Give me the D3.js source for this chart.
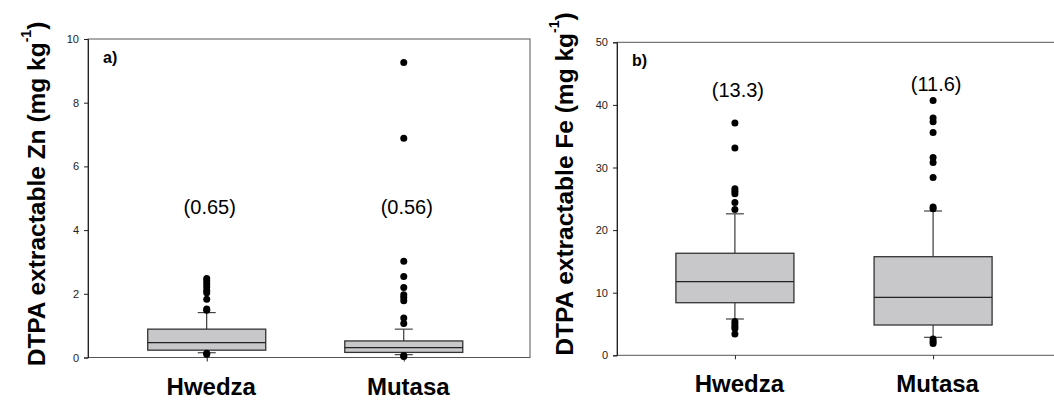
<!DOCTYPE html>
<meta charset="utf-8">
<style>
  body { margin: 0; background: #fff; }
  svg { display: block; font-family: "Liberation Sans", Arial, sans-serif; }
  .tick text { fill: #222; }
  .frame { fill: none; stroke: #555; stroke-width: 1; }
  .box { fill: #c8c8ca; stroke: #333; stroke-width: 1.3; }
  .whisker { stroke: #111; stroke-width: 1; }
  .cap { stroke: #444; stroke-width: 1.2; }
</style>
<svg width="1054" height="400"></svg>
<script src="https://d3js.org/d3.v7.min.js"></script>
<script>

  // Sites on the x axis
  var sites = ["Hwedza", "Mutasa"];

  // DTPA Zn (mg/kg), one value per site
  var znQ1 = [0.23, 0.16];
  var znMedian = [0.47, 0.31];
  var znQ3 = [0.89, 0.52];
  var znWhiskLo = [0.15, 0.09];
  var znWhiskHi = [1.41, 0.89];
  var znOutliers = [
    [2.48, 2.40, 2.31, 2.21, 2.10, 2.03, 1.83, 1.52, 1.48, 0.13, 0.10],
    [9.26, 6.88, 3.02, 2.54, 2.20, 1.97, 1.88, 1.78, 1.24, 1.07, 0.06, 0.03]
  ];
  var znMeans = ["(0.65)", "(0.56)"];
  var znTicks = [0, 2, 4, 6, 8, 10];

  // DTPA Fe (mg/kg)
  var feQ1 = [8.4, 4.84];
  var feMedian = [11.76, 9.26];
  var feQ3 = [16.3, 15.75];
  var feWhiskLo = [5.8, 2.87];
  var feWhiskHi = [22.6, 23.05];
  var feOutliers = [
    [37.1, 33.1, 26.6, 26.2, 25.8, 24.4, 23.3, 5.4, 5.0, 4.6, 4.3, 3.4],
    [40.7, 37.9, 37.3, 35.6, 31.6, 30.8, 28.4, 23.7, 23.4, 2.6, 2.2, 1.9]
  ];
  var feMeans = ["(13.3)", "(11.6)"];
  var feTicks = [0, 10, 20, 30, 40, 50];

  var svg = d3.select("svg");

  function panel(opt) {
    var x = d3.scalePoint()
      .domain(sites)
      .range(opt.xRange)
      .padding(0.6);

    var y = d3.scaleLinear()
      .domain([0, opt.max])
      .range([opt.bottom, opt.top]);

    var g = svg.append("g");

    // frame (right side runs off the page for panel b)
    g.append("rect")
      .attr("class", "frame")
      .attr("x", opt.left)
      .attr("y", opt.top)
      .attr("width", opt.right - opt.left)
      .attr("height", opt.bottom - opt.top);

    // y axis
    g.append("g")
      .attr("transform", "translate(" + opt.left + ",0)")
      .call(d3.axisLeft(y).tickValues(opt.ticks).tickSize(4).tickPadding(5))
      .call(function (a) {
        a.select(".domain").attr("stroke", "#222");
        a.selectAll("line").attr("stroke", "#222");
        a.selectAll("text").attr("font-size", 11);
      });

    // x axis with site names
    g.append("g")
      .attr("transform", "translate(0," + opt.bottom + ")")
      .call(d3.axisBottom(x).tickSize(4).tickPadding(16))
      .call(function (a) {
        a.select(".domain").remove();
        a.selectAll("line").attr("stroke", "#222");
        a.selectAll("text")
          .attr("x", 4)
          .attr("font-size", 24)
          .attr("font-weight", "bold")
          .style("fill", "#000");
      });

    var bw = 118, cw = 18;

    var s = g.selectAll(".site")
      .data(sites)
      .enter().append("g")
      .attr("transform", function (d) { return "translate(" + x(d) + ",0)"; });

    // whiskers
    s.append("line").attr("class", "whisker")
      .attr("y1", function (d, i) { return y(opt.q3[i]); })
      .attr("y2", function (d, i) { return y(opt.hi[i]); });
    s.append("line").attr("class", "whisker")
      .attr("y1", function (d, i) { return y(opt.q1[i]); })
      .attr("y2", function (d, i) { return y(opt.lo[i]); });
    s.append("line").attr("class", "cap")
      .attr("x1", -cw / 2).attr("x2", cw / 2)
      .attr("y1", function (d, i) { return y(opt.hi[i]); })
      .attr("y2", function (d, i) { return y(opt.hi[i]); });
    s.append("line").attr("class", "cap")
      .attr("x1", -cw / 2).attr("x2", cw / 2)
      .attr("y1", function (d, i) { return y(opt.lo[i]); })
      .attr("y2", function (d, i) { return y(opt.lo[i]); });

    // box + median
    s.append("rect").attr("class", "box")
      .attr("x", -bw / 2)
      .attr("width", bw)
      .attr("y", function (d, i) { return y(opt.q3[i]); })
      .attr("height", function (d, i) { return y(opt.q1[i]) - y(opt.q3[i]); });
    s.append("line")
      .attr("stroke", "#222").attr("stroke-width", 1.3)
      .attr("x1", -bw / 2).attr("x2", bw / 2)
      .attr("y1", function (d, i) { return y(opt.med[i]); })
      .attr("y2", function (d, i) { return y(opt.med[i]); });

    // outliers
    s.selectAll("circle")
      .data(function (d, i) { return opt.out[i]; })
      .enter().append("circle")
      .attr("r", 3.5)
      .attr("cy", function (v) { return y(v); })
      .attr("fill", "#000");

    // mean labels
    s.append("text")
      .attr("x", 3)
      .attr("y", function (d, i) { return y(opt.meanAt[i]); })
      .attr("text-anchor", "middle")
      .attr("font-size", 20)
      .text(function (d, i) { return opt.means[i]; });

    // panel letter
    g.append("text")
      .attr("x", opt.left + 15)
      .attr("y", opt.top + 24)
      .attr("font-size", 16)
      .attr("font-weight", "bold")
      .text(opt.letter);

    // y title with superscript
    var t = g.append("text")
      .attr("transform", "translate(" + opt.titleX + "," + opt.titleY + ") rotate(-90)")
      .attr("text-anchor", "middle")
      .attr("font-size", 24.5)
      .attr("font-weight", "bold");
    t.append("tspan").text(opt.title + " (mg kg");
    t.append("tspan").attr("font-size", 14).attr("dy", -14).text("-1");
    t.append("tspan").attr("dy", 14).text(")");
  }

  panel({
    left: 88, right: 530, top: 39, bottom: 357.5,
    xRange: [88.5, 522], max: 10, ticks: znTicks,
    q1: znQ1, med: znMedian, q3: znQ3, lo: znWhiskLo, hi: znWhiskHi,
    out: znOutliers, means: znMeans, meanAt: [4.52, 4.52],
    letter: "a)", title: "DTPA extractable Zn",
    titleX: 45, titleY: 194
  });

  panel({
    left: 617, right: 1060, top: 42.3, bottom: 355.3,
    xRange: [616, 1052], max: 50, ticks: feTicks,
    q1: feQ1, med: feMedian, q3: feQ3, lo: feWhiskLo, hi: feWhiskHi,
    out: feOutliers, means: feMeans, meanAt: [41.3, 42.3],
    letter: "b)", title: "DTPA extractable Fe",
    titleX: 573, titleY: 184
  });

</script>
